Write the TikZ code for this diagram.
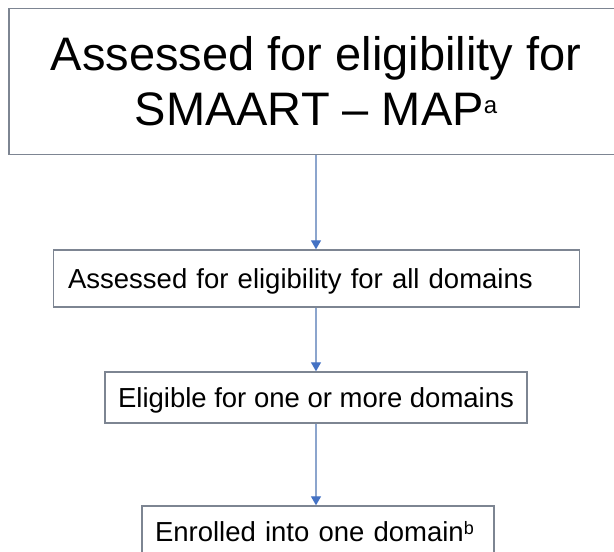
\documentclass[tikz,border=0pt]{standalone}
\usepackage{fontspec}
\setmainfont{Liberation Sans}
\usetikzlibrary{arrows.meta}
\definecolor{boxline}{RGB}{125,133,146}
\definecolor{linkline}{RGB}{140,165,205}
\definecolor{tipblue}{RGB}{68,114,196}
\begin{document}
\begin{tikzpicture}[x=1pt,y=-1pt,
  panel/.style={draw=boxline, line width=1.4pt, fill=white, rectangle, inner sep=0pt},
  stepbox/.style={panel, font=\fontsize{27.5}{33}\selectfont, text height=19.7pt, text depth=0pt},
  link/.style={draw=linkline, line width=1.2pt, -{Triangle[length=9pt,width=10pt,color=tipblue]}}]
\useasboundingbox (0,0) rectangle (614,552);
\fill[white] (0,0) rectangle (614,552);
% title box (its right side runs past the page edge)
\node[panel, minimum width=614pt, minimum height=146pt, align=center,
      font=\fontsize{47}{55}\selectfont] (top) at (316,81.5)
  {Assessed for eligibility for\\SMAART – MAP\raisebox{12.6pt}{\fontsize{24}{24}\selectfont a}};
% flow steps
\node[stepbox, text width=497pt, inner xsep=14.5pt, minimum height=57pt, align=left] (b2) at (316.6,278.5)
  {Assessed for eligibility for all domains};
\node[stepbox, minimum width=422pt, minimum height=51pt] (b3) at (316,397.5)
  {Eligible for one or more domains};
\node[stepbox, text width=326pt, inner xsep=13pt, minimum height=51pt, align=left] (b4) at (318,531.5)
  {Enrolled into one domain\raisebox{7pt}{\fontsize{18}{18}\selectfont b}};
% connectors
\draw[link] (top.south) -- (top.south |- b2.north);
\draw[link] (b2.south -| top.south) -- (top.south |- b3.north);
\draw[link] (b3.south -| top.south) -- (top.south |- b4.north);
\end{tikzpicture}
\end{document}
